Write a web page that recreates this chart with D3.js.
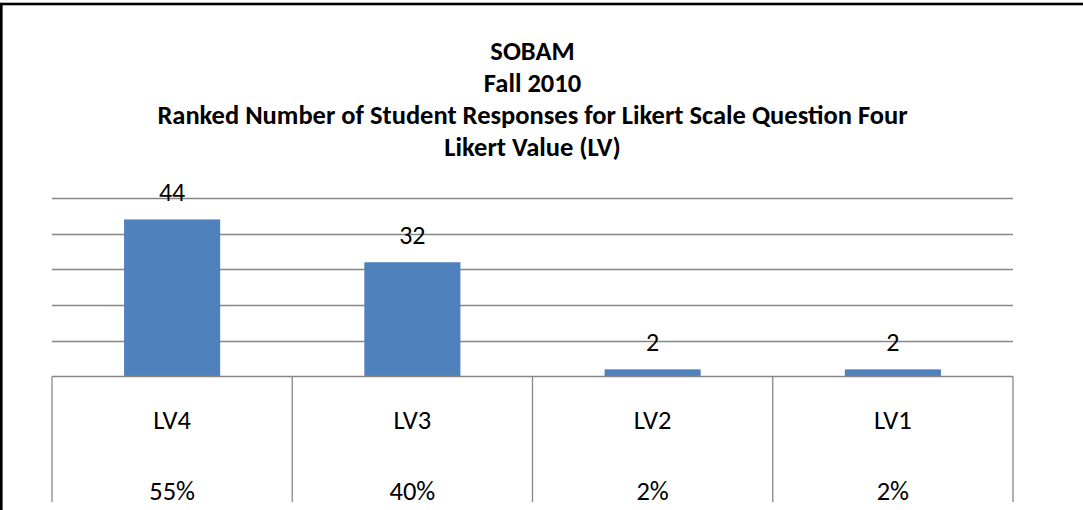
<!DOCTYPE html>
<html>
<head>
<meta charset="utf-8">
<script src="https://d3js.org/d3.v7.min.js"></script>
<style>
  html, body { margin: 0; padding: 0; background: #fff; }
  svg { display: block; font-family: Carlito, Calibri, Lato, sans-serif; }
</style>
</head>
<body>
<svg width="1083" height="510"></svg>
<script>
const categories = ["LV4", "LV3", "LV2", "LV1"];
const counts = [44, 32, 2, 2];
const percents = ["55%", "40%", "2%", "2%"];
const yTicks = [10, 20, 30, 40, 50];
const titleLines = [
  "SOBAM",
  "Fall 2010",
  "Ranked Number of Student Responses for Likert Scale Question Four",
  "Likert Value (LV)"
];

const PLOT_LEFT = 52;
const PLOT_RIGHT = 1013;
const PLOT_TOP = 198;
const PLOT_BOTTOM = 376.5;
const TABLE_BOTTOM = 502;
const BAR_COLOR = "#4f81bd";
const GRID_COLOR = "#878787";

var svg = d3.select("svg"),
    width = +svg.attr("width"),
    height = +svg.attr("height");

// chart border (right and bottom edges run off the picture)
svg.append("rect")
  .attr("x", 1.3).attr("y", 4)
  .attr("width", width + 20).attr("height", height + 20)
  .attr("fill", "#fff")
  .attr("stroke", "#000")
  .attr("stroke-width", 2.6);

var x = d3.scaleBand()
  .domain(categories)
  .range([PLOT_LEFT, PLOT_RIGHT])
  .paddingInner(0.6)
  .paddingOuter(0.3);

var xCell = d3.scaleBand()
  .domain(categories)
  .range([PLOT_LEFT, PLOT_RIGHT]);

var y = d3.scaleLinear()
  .domain([0, 50])
  .range([PLOT_BOTTOM, PLOT_TOP]);

// title
svg.append("g")
  .attr("class", "title")
  .selectAll("text")
  .data(titleLines)
  .enter().append("text")
    .attr("x", (PLOT_LEFT + PLOT_RIGHT) / 2)
    .attr("y", function(d, i) { return 60 + i * 32; })
    .attr("text-anchor", "middle")
    .style("font-weight", "bold")
    .style("font-size", "26.5px")
    .text(function(d) { return d; });

// gridlines
svg.append("g")
  .attr("class", "grid")
  .selectAll("line")
  .data(yTicks)
  .enter().append("line")
    .attr("x1", PLOT_LEFT)
    .attr("x2", PLOT_RIGHT)
    .attr("y1", function(d) { return Math.round(y(d)) + 0.5; })
    .attr("y2", function(d) { return Math.round(y(d)) + 0.5; })
    .attr("stroke", GRID_COLOR)
    .attr("stroke-width", 1.3);

// bars
svg.append("g")
  .attr("class", "bars")
  .selectAll("rect")
  .data(counts)
  .enter().append("rect")
    .attr("x", function(d, i) { return x(categories[i]); })
    .attr("width", x.bandwidth())
    .attr("y", function(d) { return y(d); })
    .attr("height", function(d) { return y(0) - y(d); })
    .attr("fill", BAR_COLOR);

// value labels
svg.append("g")
  .attr("class", "labels")
  .selectAll("text")
  .data(counts)
  .enter().append("text")
    .attr("x", function(d, i) { return x(categories[i]) + x.bandwidth() / 2; })
    .attr("y", function(d) { return y(d) - 18.5; })
    .attr("text-anchor", "middle")
    .style("font-size", "26px")
    .text(function(d) { return d; });

// data table under the axis
var table = svg.append("g").attr("class", "table");

table.append("line")
  .attr("x1", PLOT_LEFT).attr("x2", PLOT_RIGHT)
  .attr("y1", PLOT_BOTTOM).attr("y2", PLOT_BOTTOM)
  .attr("stroke", GRID_COLOR)
  .attr("stroke-width", 1.3);

table.selectAll("line.sep")
  .data(categories.concat(["end"]))
  .enter().append("line")
    .attr("class", "sep")
    .attr("x1", function(d, i) { return PLOT_LEFT + i * xCell.bandwidth(); })
    .attr("x2", function(d, i) { return PLOT_LEFT + i * xCell.bandwidth(); })
    .attr("y1", PLOT_BOTTOM)
    .attr("y2", TABLE_BOTTOM)
    .attr("stroke", GRID_COLOR)
    .attr("stroke-width", 1.3);

table.selectAll("text.cat")
  .data(categories)
  .enter().append("text")
    .attr("class", "cat")
    .attr("x", function(d) { return xCell(d) + xCell.bandwidth() / 2; })
    .attr("y", 428.5)
    .attr("text-anchor", "middle")
    .style("font-size", "26.5px")
    .text(function(d) { return d; });

table.selectAll("text.pct")
  .data(percents)
  .enter().append("text")
    .attr("class", "pct")
    .attr("x", function(d, i) { return xCell(categories[i]) + xCell.bandwidth() / 2; })
    .attr("y", 500)
    .attr("text-anchor", "middle")
    .style("font-size", "26.5px")
    .text(function(d) { return d; });
</script>
</body>
</html>
